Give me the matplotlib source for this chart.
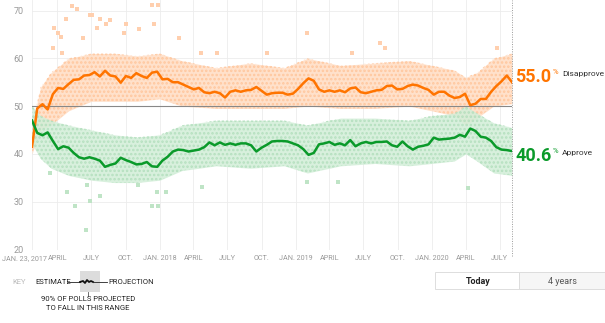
import numpy as np
import pandas as pd
import matplotlib.pyplot as plt
import matplotlib.transforms as mtransforms
from matplotlib.patches import Rectangle

plt.rcParams['font.family'] = ['Roboto', 'DejaVu Sans']
plt.rcParams['hatch.linewidth'] = 1.2

# --- data -------------------------------------------------------------
# poll-of-polls estimate, sampled every two weeks from Jan 23, 2017
start = pd.Timestamp('2017-01-23')
disapprove = [41.5, 49.5, 50.4, 49.3, 52.5, 53.8, 53.6, 54.6, 55.5, 55.6,
              56.4, 56.5, 57.1, 56.2, 57.4, 56.4, 56.2, 54.9, 56.3, 55.9,
              56.9, 56.3, 55.9, 57.0, 57.2, 55.6, 55.7, 55.0, 55.0, 54.5,
              54.0, 53.5, 53.8, 52.9, 52.7, 53.0, 52.7, 51.8, 53.0, 53.3,
              53.0, 53.3, 53.4, 54.0, 53.2, 52.4, 52.7, 52.8, 52.8, 52.4,
              52.6, 53.6, 54.8, 55.8, 55.3, 53.5, 53.0, 53.3, 53.0, 53.3,
              52.9, 53.7, 53.9, 52.9, 52.7, 53.0, 53.3, 53.4, 54.2, 54.3,
              53.5, 53.6, 54.2, 54.5, 54.3, 53.8, 53.4, 52.4, 53.0, 53.0,
              52.2, 51.7, 51.9, 52.6, 50.2, 50.5, 51.5, 51.5, 53.0, 54.2,
              55.2, 56.4, 55.0]
approve = [47.0, 44.4, 43.9, 44.5, 42.7, 41.0, 41.6, 41.3, 40.2, 39.3,
           39.0, 39.3, 39.0, 38.6, 37.3, 37.7, 38.0, 39.2, 38.7, 38.3,
           37.8, 37.9, 38.3, 37.4, 37.3, 38.6, 39.4, 40.5, 40.9, 40.8,
           40.5, 40.7, 40.9, 41.4, 42.4, 41.8, 42.4, 41.9, 42.2, 41.9,
           42.2, 42.2, 41.8, 40.5, 41.3, 41.9, 42.6, 42.7, 42.7, 42.6,
           42.2, 41.8, 41.0, 39.8, 40.2, 42.0, 42.2, 42.5, 41.9, 42.2,
           41.8, 42.9, 41.6, 42.2, 42.5, 42.2, 42.5, 42.5, 42.6, 41.8,
           41.5, 42.6, 41.6, 40.9, 41.5, 41.7, 42.0, 43.4, 43.0, 43.1,
           43.2, 43.4, 44.0, 43.6, 45.3, 44.8, 43.6, 43.4, 42.7, 41.4,
           40.9, 40.8, 40.6]
dates = pd.date_range(start, periods=len(approve), freq='14D')

# spread of individual polls (dense part of the dot cloud)
band_dates = pd.to_datetime([
    '2017-01-23', '2017-02-15', '2017-03-15', '2017-05-01', '2017-07-01',
    '2017-09-01', '2017-11-01', '2018-01-01', '2018-03-01', '2018-06-01',
    '2018-09-01', '2018-12-01', '2019-02-01', '2019-05-01', '2019-08-01',
    '2019-11-01', '2020-01-01', '2020-03-01', '2020-04-01', '2020-05-01',
    '2020-06-15', '2020-08-03'])
dis_hi = [46, 54, 57, 60, 61, 61, 60.5, 61, 59.5, 58, 59, 58, 60, 58.5, 59,
          59.5, 58.5, 57.5, 56, 57, 60, 61]
dis_lo = [40, 45, 46, 49, 51, 51, 51, 51.5, 50, 49.5, 49.5, 49.5, 50, 49.5,
          49.5, 50, 49, 48, 46, 47.5, 50, 50.5]
app_hi = [50, 48, 47, 46, 45, 44, 43.5, 44, 46, 47, 47, 47, 46, 47.5, 47.5,
          47, 48, 48.5, 50, 48.5, 46.5, 45.5]
app_lo = [42, 39, 37, 35.5, 34.5, 34, 34, 34.5, 36.5, 37.5, 37, 37.5, 36,
          37.5, 38, 37.5, 38, 38.5, 40, 38.5, 36, 35.5]

# outlying polls
dis_out_dates = pd.to_datetime([
    '2017-05-10', '2017-05-24', '2017-06-28', '2017-07-03', '2017-04-24',
    '2017-03-23', '2017-04-03', '2017-04-11', '2017-03-20', '2017-04-13',
    '2017-07-24', '2017-08-10', '2017-08-20', '2017-07-16', '2017-10-02',
    '2017-09-27', '2017-12-11', '2017-12-27', '2017-12-16', '2017-11-06',
    '2018-02-21', '2017-06-09', '2019-01-31', '2019-08-14', '2019-08-27',
    '2018-10-15', '2018-06-03', '2019-05-31', '2018-04-21', '2020-06-24'])
dis_out = [70.9, 70.3, 69.0, 69.0, 68.2, 66.3, 65.3, 64.4, 62.1, 61.1,
           68.2, 67.2, 68.0, 66.3, 67.2, 65.3, 71.1, 71.1, 67.2, 66.1,
           64.2, 64.2, 65.3, 63.2, 62.1, 61.1, 61.1, 61.1, 61.1, 62.1]
app_out_dates = pd.to_datetime([
    '2017-06-17', '2017-05-18', '2017-06-28', '2017-07-24', '2017-04-27',
    '2017-03-12', '2017-12-11', '2017-12-27', '2018-01-18', '2017-12-24',
    '2017-11-03', '2017-06-20', '2019-01-31', '2019-04-23', '2018-04-24',
    '2020-04-06'])
app_out = [24.1, 29.1, 30.1, 31.2, 32.0, 36.0, 29.1, 29.1, 32.0, 32.0,
           33.5, 33.5, 34.1, 34.1, 33.0, 32.8]

tick_dates = pd.to_datetime([
    '2017-01-23', '2017-04-01', '2017-07-01', '2017-10-01', '2018-01-01',
    '2018-04-01', '2018-07-01', '2018-10-01', '2019-01-01', '2019-04-01',
    '2019-07-01', '2019-10-01', '2020-01-01', '2020-04-01', '2020-07-01'])
tick_labels = ['JAN. 23, 2017', 'APRIL', 'JULY', 'OCT.', 'JAN. 2018',
               'APRIL', 'JULY', 'OCT.', 'JAN. 2019', 'APRIL', 'JULY', 'OCT.',
               'JAN. 2020', 'APRIL', 'JULY']

ORANGE = '#ff7400'
GREEN = '#0a9a2a'

# --- figure -----------------------------------------------------------
W, H = 605, 323
fig = plt.figure(figsize=(W / 100, H / 100), dpi=100)
ax = fig.add_axes([32 / W, 1 - 249.5 / H, 480 / W, 249.5 / H])

# poll clouds: pale fill plus a dotted texture
ax.fill_between(band_dates, dis_lo, dis_hi, color='#ffdcc2', lw=0, alpha=0.85)
ax.fill_between(band_dates, dis_lo, dis_hi, facecolor='none',
                edgecolor='#ffc79e', hatch='....', lw=0)
ax.fill_between(band_dates, app_lo, app_hi, color='#d2eed8', lw=0, alpha=0.85)
ax.fill_between(band_dates, app_lo, app_hi, facecolor='none',
                edgecolor='#b5e0bf', hatch='....', lw=0)
ax.scatter(dis_out_dates, dis_out, s=6, marker='s', color='#ffcfae', lw=0)
ax.scatter(app_out_dates, app_out, s=6, marker='s', color='#bfe4c6', lw=0)

ax.axhline(50, color='#888888', lw=0.8, zorder=3)
ax.plot(dates, disapprove, color=ORANGE, lw=1.8, zorder=4)
ax.plot(dates, approve, color=GREEN, lw=1.8, zorder=4)
ax.axvline(dates[-1], ymin=-0.025, ymax=1, color='#999999', lw=0.7,
           ls=(0, (1, 1.5)), clip_on=False, zorder=5)

ax.set_xlim(dates[0], dates[-1])
ax.set_ylim(20, 72.2)
ax.set_yticks(range(20, 80, 10))
ax.set_xticks(tick_dates)
ax.set_xticklabels(tick_labels)
ax.tick_params(length=0, labelsize=5.2, colors='#9a9a9a', pad=4)
ax.tick_params(axis='y', labelsize=6.5, pad=6)
ax.grid(True, color='#ececec', lw=0.6)
ax.set_axisbelow(True)
for s in ax.spines.values():
    s.set_visible(False)
# nudge the first date label left so it does not run into "APRIL"
first = ax.get_xticklabels()[0]
first.set_transform(first.get_transform() +
                    mtransforms.ScaledTranslation(-7 / 100, 0, fig.dpi_scale_trans))

# end labels
for vals, txt, col, dy in [(disapprove, 'Disapprove', ORANGE, 5),
                           (approve, 'Approve', GREEN, -5)]:
    x_end, y_end = dates[-1], vals[-1]
    ax.annotate(f'{vals[-1]:.1f}', (x_end, y_end), xytext=(3, dy),
                textcoords='offset pixels', color=col, fontsize=13,
                fontweight='bold', va='center', ha='left', annotation_clip=False)
    ax.annotate('%', (x_end, y_end), xytext=(41, dy + 5),
                textcoords='offset pixels', color=col, fontsize=5.5,
                va='center', ha='left', annotation_clip=False)
    ax.annotate(txt, (x_end, y_end), xytext=(50, dy + 3),
                textcoords='offset pixels', color='#333333', fontsize=6,
                va='center', ha='left', annotation_clip=False)

# --- key and buttons (pixel overlay) -----------------------------------
ov = fig.add_axes([0, 0, 1, 1])
ov.set_xlim(0, W)
ov.set_ylim(H, 0)
ov.axis('off')
ov.patch.set_visible(False)

ov.text(12, 282, 'KEY', fontsize=5.5, color='#bbbbbb', va='center')
ov.text(35, 282, 'ESTIMATE', fontsize=5.5, color='#222222', va='center')
ov.add_patch(Rectangle((80, 271), 20, 21, color='#dcdcdc', lw=0))
ov.plot([68, 80], [282, 282], color='#222222', lw=0.6)
ov.plot([80, 83, 85, 87, 89, 91, 93], [282, 281, 283, 280, 282, 281, 282],
        color='#111111', lw=1.3)
ov.plot([93, 107], [282, 282], color='#222222', lw=0.6)
ov.text(108, 282, 'PROJECTION', fontsize=5.5, color='#222222', va='center')
ov.plot([88, 88], [292, 296], color='#555555', lw=0.6)
ov.text(88, 299, '90% OF POLLS PROJECTED', fontsize=5.5, color='#222222',
        ha='center', va='center')
ov.text(88, 308, 'TO FALL IN THIS RANGE', fontsize=5.5, color='#222222',
        ha='center', va='center')

ov.add_patch(Rectangle((435, 272), 84, 17, facecolor='white',
                       edgecolor='#dddddd', lw=0.7))
ov.add_patch(Rectangle((519, 272), 90, 17, facecolor='#f6f6f6',
                       edgecolor='#dddddd', lw=0.7))
ov.text(478, 281, 'Today', fontsize=6.5, fontweight='bold', color='#222222',
        ha='center', va='center')
ov.text(562, 281, '4 years', fontsize=6.5, color='#555555',
        ha='center', va='center')

fig.savefig('out.png', dpi=100)
